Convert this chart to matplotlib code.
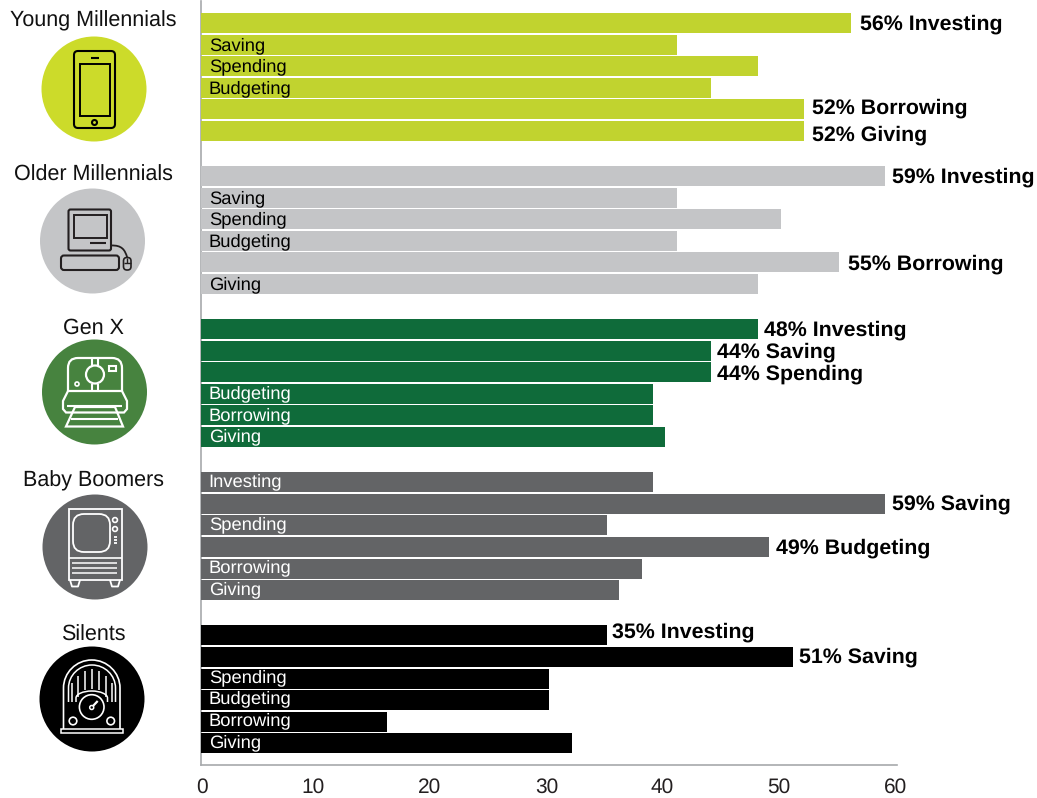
import numpy as np
import matplotlib
matplotlib.use("Agg")
import matplotlib.pyplot as plt
from matplotlib.patches import Circle, FancyBboxPatch, PathPatch, Polygon, Rectangle
from matplotlib.path import Path
from matplotlib.transforms import ScaledTranslation

plt.rcParams['font.family'] = ['Liberation Sans', 'DejaVu Sans']
plt.rcParams['text.hinting'] = 'no_hinting'

generations = ['Young Millennials', 'Older Millennials', 'Gen X', 'Baby Boomers', 'Silents']
topics = ['Investing', 'Saving', 'Spending', 'Budgeting', 'Borrowing', 'Giving']

young_millennials = [56, 41, 48, 44, 52, 52]
older_millennials = [59, 41, 50, 41, 55, 48]
gen_x = [48, 44, 44, 39, 39, 40]
baby_boomers = [39, 59, 35, 49, 38, 36]
silents = [35, 51, 30, 30, 16, 32]
series = [young_millennials, older_millennials, gen_x, baby_boomers, silents]

# topics that get a bold value label, one list per generation
highlighted = [
    ['Investing', 'Borrowing', 'Giving'],
    ['Investing', 'Borrowing'],
    ['Investing', 'Saving', 'Spending'],
    ['Saving', 'Budgeting'],
    ['Investing', 'Saving'],
]

# hand placement of some bold labels: (right, down) in pixels
label_nudges = {
    (0, 'Investing'): (2, 0), (0, 'Borrowing'): (1, -2), (0, 'Giving'): (1, 3),
    (1, 'Borrowing'): (1.5, 1),
    (2, 'Investing'): (-1, 0), (2, 'Saving'): (-1, 0), (2, 'Spending'): (-1, 1),
    (3, 'Saving'): (-0.5, -1), (3, 'Budgeting'): (-0.5, 0.5),
    (4, 'Investing'): (-2.5, -4), (4, 'Saving'): (-1, -1),
}
tick_nudges = [0.5, -4, -3.5, -2.5, -3, -2.5, -1]

bar_colors = ['#C1D32F', '#C4C5C7', '#0F6B3A', '#636466', '#000000']
circle_colors = ['#CCDB2A', '#C4C5C7', '#47833F', '#636466', '#000000']
name_colors = ['black', 'black', 'white', 'white', 'white']
icon_colors = ['black', '#231F20', 'white', 'white', 'white']

name_y = [20.5, 175, 328, 481, 635]
circle_xy = [(94, 89), (92.5, 241), (94.5, 392), (95, 547), (92, 699)]

W, H = 1037, 798
fig = plt.figure(figsize=(W / 100, H / 100), dpi=100)

# main axes: x runs 0-60, y counts bar rows in pixels from the top
left, right, top, bottom = 201.2, 897, 1, 765
ax = fig.add_axes([left / W, 1 - bottom / H, (right - left) / W, (bottom - top) / H])
ax.set_xlim(0, 60)
ax.set_ylim(bottom, top)

group_step = 153.1
row_step = 21.55
first_row = 23.0

for g, values in enumerate(series):
    ys = first_row + g * group_step + np.arange(len(values)) * row_step
    ax.barh(ys, values, height=20, color=bar_colors[g], linewidth=0, zorder=3)
    for y, v, topic in zip(ys, values, topics):
        if topic in highlighted[g]:
            dx, dy = label_nudges.get((g, topic), (0, 0))
            ax.annotate(f'{v}% {topic}', (v, y), xytext=(7 + dx, -1 - dy), textcoords='offset pixels',
                        va='center', ha='left', fontsize=15.4, fontweight='bold', color='black', zorder=4)
        else:
            ax.annotate(topic, (0, y), xytext=(7.5, -1 + g * 0.5), textcoords='offset pixels',
                        va='center', ha='left', fontsize=13.2, color=name_colors[g], zorder=4)

for side in ['top', 'right']:
    ax.spines[side].set_visible(False)
for side in ['left', 'bottom']:
    ax.spines[side].set_color('#A7A9AC')
    ax.spines[side].set_linewidth(1.2)
ax.set_yticks([])
ax.set_xticks(np.arange(0, 61, 10))
ax.tick_params(axis='x', length=0, pad=9, labelsize=15, labelcolor='#231F20')
for lbl, dx in zip(ax.get_xticklabels(), tick_nudges):
    lbl.set_transform(lbl.get_transform() + ScaledTranslation(dx / 100, 0, fig.dpi_scale_trans))

# overlay in pixel units for the generation names and icons
ov = fig.add_axes([0, 0, 1, 1], facecolor='none')
ov.set_xlim(0, W)
ov.set_ylim(H, 0)
ov.axis('off')

for name, y in zip(generations, name_y):
    ov.text(93.5, y, name, ha='center', va='center', fontsize=15.5, color='#111111')
for (cx, cy), c in zip(circle_xy, circle_colors):
    ov.add_patch(Circle((cx, cy), 52.5, color=c, lw=0))


def rrect(x0, y0, x1, y1, r, color, lw=1.5):
    ov.add_patch(FancyBboxPatch((x0 + r, y0 + r), x1 - x0 - 2 * r, y1 - y0 - 2 * r,
                                boxstyle=f'round,pad={r},rounding_size={r}',
                                fc='none', ec=color, lw=lw))


def line(xs, ys, color, lw=1.5):
    ov.plot(xs, ys, color=color, lw=lw, solid_capstyle='butt')


def ring(x, y, r, color, lw=1.5):
    ov.add_patch(Circle((x, y), r, fc='none', ec=color, lw=lw))


def draw_phone(c):
    rrect(74, 51, 115, 128, 4, c)
    ov.add_patch(Rectangle((79.5, 63.5), 30, 52.5, fc='none', ec=c, lw=1.4))
    line([91, 98.5], [58, 58], c)
    ring(94.5, 122.5, 2.5, c)


def draw_computer(c):
    rrect(68.5, 209.5, 111, 250.5, 2, c)
    ov.add_patch(Rectangle((73.5, 214.5), 33, 23.5, fc='none', ec=c, lw=1.4))
    line([90, 106], [243, 243], c)
    rrect(61, 255.5, 119, 270, 3, c)
    rrect(123.5, 257.5, 131, 270, 3.5, c, lw=1.2)
    line([123.5, 131], [263, 263], c, lw=1)
    line([127.2, 127.2], [257.5, 263], c, lw=1)
    cable = Path([(111, 245.5), (122, 245), (125, 250), (127.2, 257.5)],
                 [Path.MOVETO, Path.CURVE4, Path.CURVE4, Path.CURVE4])
    ov.add_patch(PathPatch(cable, fc='none', ec=c, lw=1.3))


def draw_camera(c):
    body = Path([(68, 391), (68, 368), (68, 358), (78, 358), (112, 358), (122, 358), (122, 368), (122, 391)],
                [Path.MOVETO, Path.LINETO, Path.CURVE3, Path.CURVE3, Path.LINETO, Path.CURVE3, Path.CURVE3, Path.LINETO])
    ov.add_patch(PathPatch(body, fc='none', ec=c, lw=1.6))
    ring(95, 374.5, 9, c, lw=1.6)
    for x in [92, 97.5]:
        line([x, x], [358, 365.5], c)
        line([x, x], [383.5, 391], c)
    ov.add_patch(Rectangle((109, 366), 7, 5, fc='none', ec=c, lw=1.5))
    ring(77, 384, 2, c, lw=1.2)
    base = [(68, 391), (122, 391), (127, 401), (127, 409), (124, 412.5), (66, 412.5), (63, 409), (63, 401)]
    ov.add_patch(Polygon(base, closed=True, fc='none', ec=c, lw=1.6))
    line([67, 122], [406, 406], c)
    paper = [(75, 407), (115, 407), (123, 426.5), (66, 426.5)]
    ov.add_patch(Polygon(paper, closed=True, fc='none', ec=c, lw=1.6))
    line([71, 118], [419, 419], c)


def draw_tv(c):
    ov.add_patch(Rectangle((68.5, 508.5), 53, 71.5, fc='none', ec=c, lw=1.3))
    rrect(73, 514, 110, 552, 11, c, lw=1.3)
    ring(115, 520, 2.4, c, lw=1.2)
    ring(115, 529, 2.4, c, lw=1.2)
    for y in [537, 540, 543]:
        line([113.5, 116.5], [y, y], c, lw=1.3)
    line([68.5, 121.5], [558, 558], c, lw=1.2)
    for y in [563, 568, 573]:
        line([72, 117], [y, y], c, lw=1.1)
    line([70, 72, 78, 80], [580, 586.5, 586.5, 580], c, lw=1.3)
    line([110, 112, 118, 120], [580, 586.5, 586.5, 580], c, lw=1.3)


def arch(x0, x1, ytop, yshoulder, ybot):
    # straight sides with an elliptical dome on top
    xm = (x0 + x1) / 2
    k = 0.55
    dx = (x1 - x0) / 2 * k
    dy = (yshoulder - ytop) * k
    return Path([(x0, ybot), (x0, yshoulder), (x0, yshoulder - dy), (xm - dx, ytop), (xm, ytop),
                 (xm + dx, ytop), (x1, yshoulder - dy), (x1, yshoulder), (x1, ybot)],
                [Path.MOVETO, Path.LINETO, Path.CURVE4, Path.CURVE4, Path.CURVE4,
                 Path.CURVE4, Path.CURVE4, Path.CURVE4, Path.LINETO])


def draw_radio(c):
    ov.add_patch(PathPatch(arch(63.5, 120, 660, 688, 729), fc='none', ec=c, lw=1.2))
    ov.add_patch(PathPatch(arch(68.5, 115.5, 665, 688, 702), fc='none', ec=c, lw=1.1))
    ov.add_patch(Rectangle((60.5, 729), 62.5, 3.5, fc='none', ec=c, lw=1.1))
    ring(91.7, 707, 12.3, c, lw=1.2)
    ov.add_patch(PathPatch(arch(76, 107.5, 691, 698, 702), fc='none', ec=c, lw=1.1))
    grille_x = [72, 78, 85, 92, 98.5, 105.5, 111.5]
    grille_top = [683, 676, 671, 669, 671, 676, 683]
    grille_end = [702, 697, 690, 689, 690, 697, 702]
    for x, y0, y1 in zip(grille_x, grille_top, grille_end):
        line([x, x], [y0, y1], c, lw=1.1)
    ring(91.7, 707.5, 2, c, lw=1.1)
    line([93, 97.7], [706, 701], c, lw=1.6)
    ring(73, 721, 3.8, c, lw=1.2)
    ring(110.7, 721, 3.8, c, lw=1.2)


for draw, c in zip([draw_phone, draw_computer, draw_camera, draw_tv, draw_radio], icon_colors):
    draw(c)

fig.savefig('out.png', dpi=100)
